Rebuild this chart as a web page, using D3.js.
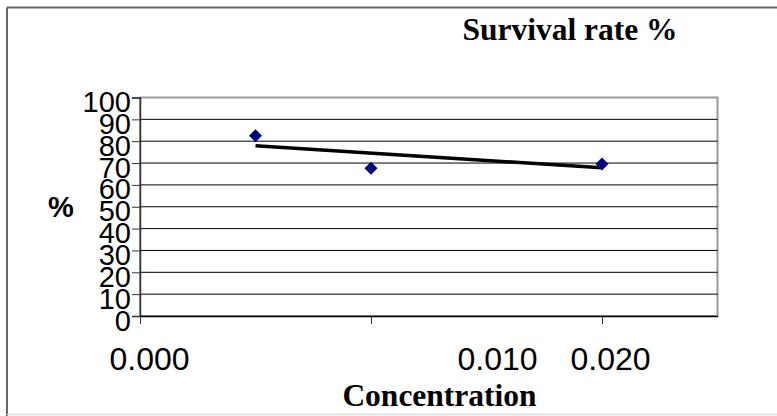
<!DOCTYPE html>
<html>

<head>
    <title>Survival rate %</title>
    <script src="https://cdnjs.cloudflare.com/ajax/libs/d3/7.8.5/d3.min.js"></script>
    <style>
        body { margin: 0; background: #fff; }
        .num { font-family: "Liberation Sans", Arial, sans-serif; }
        .serif { font-family: "Liberation Serif", "Times New Roman", serif; font-weight: bold; }
    </style>
</head>

<body>
    <div id="chart"></div>
    <script>
        // Data
        const concentration = [0.005, 0.010, 0.020];
        const survival = [82.5, 67.6, 69.6];
        // linear trendline end points
        const trendX = [0.005, 0.020];
        const trendY = [77.9, 67.8];
        const xTicks = [0, 0.010, 0.020];
        const yTicks = [0, 10, 20, 30, 40, 50, 60, 70, 80, 90, 100];

        const width = 777, height = 416;

        const svg = d3.select("#chart")
            .append("svg")
            .attr("width", width)
            .attr("height", height);

        // outer chart frame
        svg.append("line").attr("x1", 7).attr("y1", 7.5).attr("x2", width).attr("y2", 7.5)
            .attr("stroke", "#666").attr("stroke-width", 2);
        svg.append("line").attr("x1", 7).attr("y1", 7.5).attr("x2", 7).attr("y2", height)
            .attr("stroke", "#666").attr("stroke-width", 2);
        svg.append("line").attr("x1", 7).attr("y1", 414.5).attr("x2", width).attr("y2", 414.5)
            .attr("stroke", "#ddd").attr("stroke-width", 1.5);

        const x = d3.scaleLinear().domain([0, 0.025]).range([140, 717.5]);
        const y = d3.scaleLinear().domain([0, 100]).range([316, 97.5]);

        // plot area border
        svg.append("rect")
            .attr("x", x(0)).attr("y", y(100))
            .attr("width", x(0.025) - x(0)).attr("height", y(0) - y(100))
            .attr("fill", "none").attr("stroke", "#999").attr("stroke-width", 2);

        // gridlines
        svg.append("g")
            .selectAll("line")
            .data(yTicks.filter(d => d > 0 && d < 100))
            .enter()
            .append("line")
            .attr("x1", x(0)).attr("x2", x(0.025))
            .attr("y1", d => y(d)).attr("y2", d => y(d))
            .attr("stroke", "#000").attr("stroke-width", 1);

        // y axis
        const yAxis = svg.append("g")
            .attr("transform", `translate(${x(0)},0)`)
            .call(d3.axisLeft(y).tickValues(yTicks).tickSize(8).tickPadding(1).tickFormat(d3.format("d")));
        yAxis.select(".domain").attr("stroke", "#333").attr("stroke-width", 1.5);
        yAxis.selectAll(".tick line").attr("stroke", "#333");
        yAxis.selectAll("text")
            .attr("class", "num")
            .attr("font-size", 29)
            .attr("fill", "#000")
            .attr("dy", 14);
        yAxis.attr("font-family", null);

        // x axis
        const xAxis = svg.append("g")
            .attr("transform", `translate(0,${y(0)})`)
            .call(d3.axisBottom(x).tickValues(xTicks).tickSize(8).tickSizeOuter(0).tickFormat(d3.format(".3f")));
        xAxis.select(".domain").attr("stroke", "#000").attr("stroke-width", 1.5);
        xAxis.selectAll(".tick line").attr("stroke", "#333");
        // labels sit off their ticks in the original
        const labelShift = [9, 126, 8];
        xAxis.selectAll("text")
            .attr("class", "num")
            .attr("font-size", 32)
            .attr("fill", "#000")
            .attr("y", 53.5)
            .attr("dy", 0)
            .attr("dx", (d, i) => labelShift[i]);
        xAxis.attr("font-family", null);

        // trendline
        svg.append("path")
            .datum(trendX.map((d, i) => [d, trendY[i]]))
            .attr("d", d3.line().x(d => x(d[0])).y(d => y(d[1])))
            .attr("stroke", "#000").attr("stroke-width", 3.5).attr("fill", "none");

        // points
        svg.append("g")
            .selectAll("path")
            .data(concentration.map((d, i) => [d, survival[i]]))
            .enter()
            .append("path")
            .attr("transform", d => `translate(${x(d[0])},${y(d[1])})`)
            .attr("d", "M0,-6.5L6.5,0L0,6.5L-6.5,0Z")
            .attr("fill", "#000080");

        // titles
        svg.append("text").attr("class", "serif")
            .attr("x", 570).attr("y", 40).attr("text-anchor", "middle")
            .attr("font-size", 31.5).text("Survival rate %");
        svg.append("text").attr("class", "serif")
            .attr("x", 439.5).attr("y", 406).attr("text-anchor", "middle")
            .attr("font-size", 31.5).text("Concentration");
        svg.append("text").attr("class", "num")
            .attr("x", 61).attr("y", 217).attr("text-anchor", "middle")
            .attr("font-weight", "bold").attr("font-size", 29).text("%");
    </script>
</body>

</html>
